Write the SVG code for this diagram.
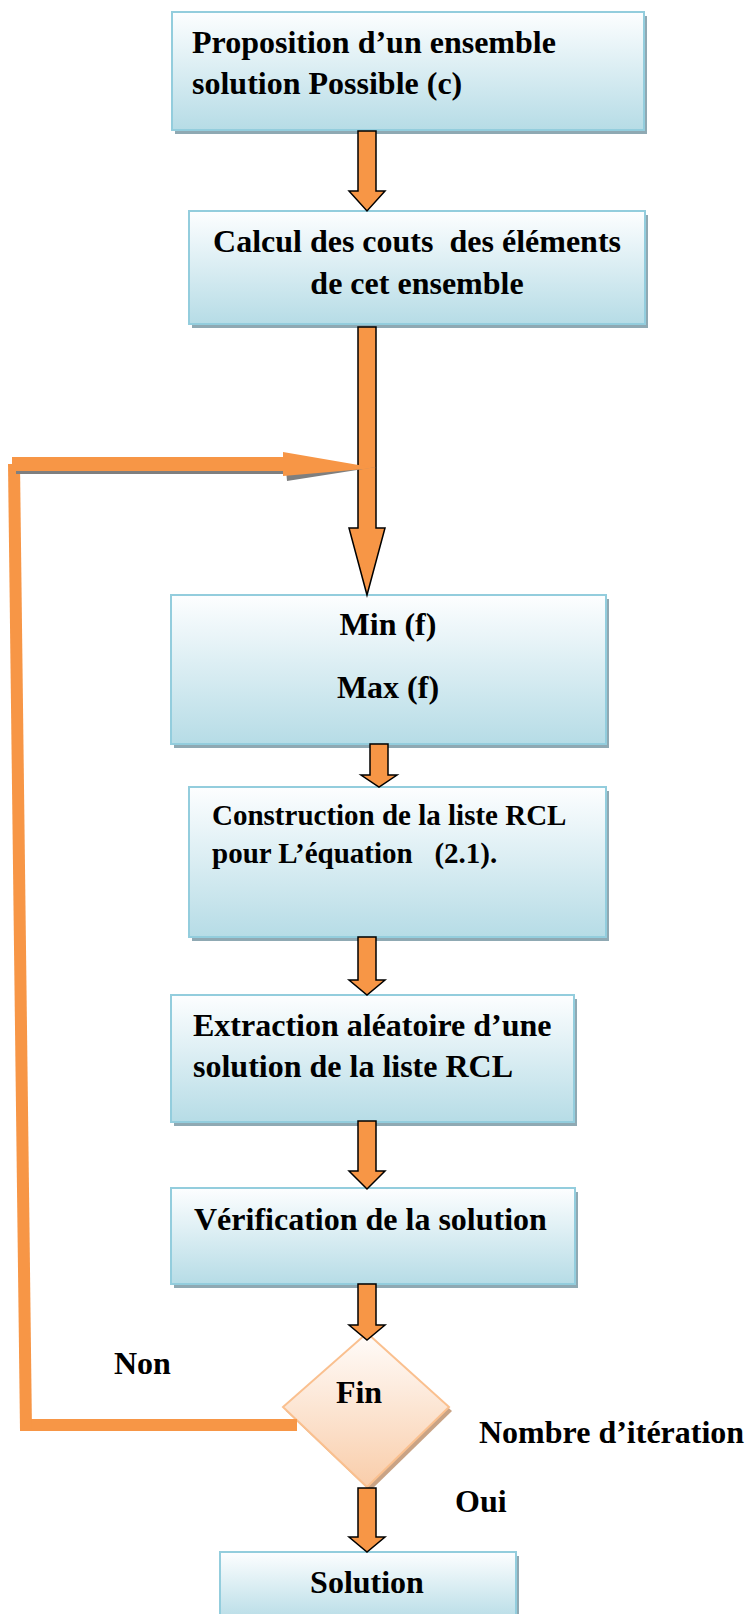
<svg xmlns="http://www.w3.org/2000/svg" width="745" height="1614" viewBox="0 0 745 1614">
  <defs>
    <linearGradient id="boxFill" x1="0" y1="0" x2="0" y2="1">
      <stop offset="0" stop-color="#FDFEFF"/>
      <stop offset="1" stop-color="#B6DCE6"/>
    </linearGradient>
    <linearGradient id="diamondFill" x1="0" y1="0" x2="0" y2="1">
      <stop offset="0" stop-color="#FFFCFA"/>
      <stop offset="1" stop-color="#F9CDAA"/>
    </linearGradient>
    <style>
      .shadow { fill: #8FA9B3; }
      .box { fill: url(#boxFill); stroke: #93CDDD; stroke-width: 2; }
      .arrow { fill: #F79646; stroke: #000; stroke-width: 1.5; stroke-linejoin: miter; }
      .loop { fill: #F79646; }
      .loopShadow { fill: #7F7F7F; }
      .t { font-family: "Liberation Serif", "Times New Roman", serif; font-weight: bold; font-size: 32px; fill: #000; white-space: pre; }
      .small { font-size: 29px; }
      .mid { text-anchor: middle; }
    </style>
  </defs>
  <rect width="745" height="1614" fill="#fff"/>

  <!-- process boxes -->
  <g id="node-proposition">
    <rect class="shadow" x="175" y="16" width="472" height="118"/>
    <rect class="box" x="172" y="12" width="472" height="118"/>
    <text class="t" x="192" y="53">Proposition d’un ensemble</text>
    <text class="t" x="192" y="94">solution Possible (c)</text>
  </g>

  <g id="node-calcul">
    <rect class="shadow" x="192" y="215" width="456" height="113"/>
    <rect class="box" x="189" y="211" width="456" height="113"/>
    <text class="t mid" x="417" y="252">Calcul des couts  des éléments</text>
    <text class="t mid" x="417" y="294">de cet ensemble</text>
  </g>

  <g id="node-minmax">
    <rect class="shadow" x="174" y="599" width="435" height="149"/>
    <rect class="box" x="171" y="595" width="435" height="149"/>
    <text class="t mid" x="388" y="635">Min (f)</text>
    <text class="t mid" x="388" y="698">Max (f)</text>
  </g>

  <g id="node-rcl">
    <rect class="shadow" x="192" y="791" width="417" height="150"/>
    <rect class="box" x="189" y="787" width="417" height="150"/>
    <text class="t small" x="212" y="825">Construction de la liste RCL</text>
    <text class="t small" x="212" y="863">pour L’équation   (2.1).</text>
  </g>

  <g id="node-extraction">
    <rect class="shadow" x="174" y="999" width="403" height="127"/>
    <rect class="box" x="171" y="995" width="403" height="127"/>
    <text class="t" x="193" y="1036">Extraction aléatoire d’une</text>
    <text class="t" x="193" y="1077">solution de la liste RCL</text>
  </g>

  <g id="node-verification">
    <rect class="shadow" x="174" y="1192" width="404" height="96"/>
    <rect class="box" x="171" y="1188" width="404" height="96"/>
    <text class="t" x="194" y="1230">Vérification de la solution</text>
  </g>

  <!-- decision -->
  <g id="node-fin">
    <polygon points="370,1337 452,1411 370,1491 286,1411" fill="#C9A385"/>
    <polygon points="367,1333 449,1407 367,1487 283,1407" fill="url(#diamondFill)" stroke="#FAC08F" stroke-width="2"/>
    <text class="t mid" x="359" y="1403">Fin</text>
  </g>

  <g id="node-solution">
    <rect class="shadow" x="223" y="1556" width="296" height="70"/>
    <rect class="box" x="220" y="1552" width="296" height="70"/>
    <text class="t mid" x="367" y="1593">Solution</text>
  </g>

  <!-- connectors -->
  <g id="connectors">
    <path class="arrow" d="M358 131 H376 V191 H385 L367 211 L349 191 H358 Z"/>
    <path class="arrow" d="M358 327 H376 V528 H385 L367 595 L349 528 H358 Z"/>
    <path class="arrow" d="M370 744 H388 V775 H397 L379 787 L361 775 H370 Z"/>
    <path class="arrow" d="M358 937 H376 V980 H385 L367 995 L349 980 H358 Z"/>
    <path class="arrow" d="M358 1121 H376 V1171 H385 L367 1189 L349 1171 H358 Z"/>
    <path class="arrow" d="M358 1284 H376 V1325 H385 L367 1340 L349 1325 H358 Z"/>
    <path class="arrow" d="M358 1488 H376 V1537 H385 L367 1552 L349 1537 H358 Z"/>

    <!-- "Non" loop back to the top -->
    <g id="loop">
      <rect class="loop" x="26" y="1419" width="271" height="12"/>
      <polygon class="loop" points="8,464 20,464 32,1431 20,1431"/>
      <rect class="loopShadow" x="16" y="470" width="272" height="4"/>
      <polygon class="loopShadow" points="286,470 376,467 287,481"/>
      <rect class="loop" x="12" y="457" width="275" height="14"/>
      <polygon class="loop" points="283,452 376,468 283,476"/>
    </g>
  </g>

  <!-- branch labels -->
  <g id="labels">
    <text class="t" x="114" y="1374">Non</text>
    <text class="t" x="479" y="1443">Nombre d’itération</text>
    <text class="t" x="455" y="1512">Oui</text>
  </g>
</svg>
